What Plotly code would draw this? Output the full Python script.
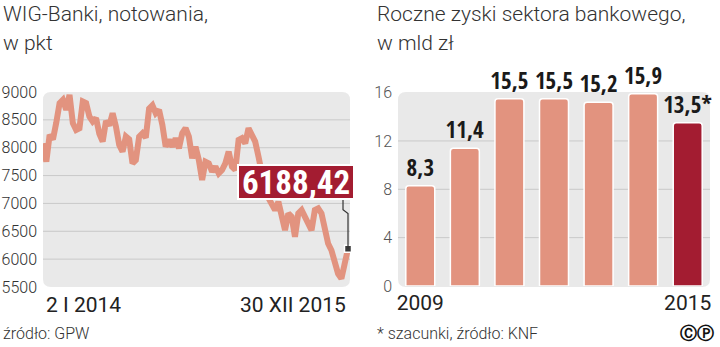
import plotly.graph_objects as go

# ---- data ----
wig_values = [8080, 7750, 8230, 8150, 8450, 8800, 8860, 8680, 8950, 8440,
              8320, 8350, 8830, 8800, 8560, 8470, 8530, 8250, 8110, 8480,
              8400, 8620, 8380, 8050, 7930, 8200, 8150, 7720, 7780, 8200,
              8260, 8180, 8700, 8760, 8620, 8680, 8410, 8020, 8140, 8020,
              8170, 7990, 8260, 8350, 8200, 7810, 8020, 7780, 7420, 7750,
              7720, 7570, 7660, 7540, 7600, 7720, 7930, 7660, 7600, 8140,
              8170, 8080, 8350, 8200, 8110, 7840, 7500, 7250, 7100, 7000,
              6880, 7030, 6760, 6520, 6820, 6760, 6400, 6820, 6880, 6760,
              6700, 6520, 6880, 6910, 6820, 6580, 6280, 6160, 5950, 5740,
              5650, 5900, 6188.42]
wig_last_label = "6188,42"
wig_xlabels = ["2 I 2014", "30 XII 2015"]
wig_yticks = [5500, 6000, 6500, 7000, 7500, 8000, 8500, 9000]

years = ["2009", "2010", "2011", "2012", "2013", "2014", "2015"]
profits = [8.3, 11.4, 15.5, 15.5, 15.2, 15.9, 13.5]
profit_notes = ["", "", "", "", "", "", "*"]
bar_yticks = [0, 4, 8, 12, 16]

LIGHT = "Roboto Light, Roboto, sans-serif"
REG = "Roboto, sans-serif"
BOLDC = "Open Sans Condensed, Roboto Condensed, sans-serif"
RCOND = "Roboto Condensed, sans-serif"
SALMON = "#e2937f"
DARKRED = "#a31c31"
BG = "#e9e9e9"
GRID = "#c9c9c9"

W, H = 720, 347
def px_x(p): return p / W
def px_y(p): return 1 - p / H

fig = go.Figure()

idx = list(range(len(wig_values)))
fig.add_trace(go.Scatter(x=idx, y=wig_values, mode="lines",
                         line=dict(color=SALMON, width=6, shape="linear"),
                         xaxis="x", yaxis="y", hoverinfo="skip"))
fig.add_trace(go.Scatter(x=[idx[-1]], y=[wig_values[-1]], mode="markers",
                         marker=dict(symbol="square", size=7, color="#3b3b3b",
                                     line=dict(color="white", width=1.5)),
                         xaxis="x", yaxis="y", cliponaxis=False))

bar_colors = [SALMON] * (len(profits) - 1) + [DARKRED]
bar_text = [f"{v:.1f}".replace(".", ",") + n for v, n in zip(profits, profit_notes)]
fig.add_trace(go.Bar(x=years, y=profits, marker=dict(color=bar_colors,
                                                     line=dict(color="white", width=1.5)),
                     text=bar_text, textposition="outside", cliponaxis=False,
                     constraintext="none",
                     textfont=dict(family=BOLDC, size=23, color="#1a1a1a", weight="bold"),
                     xaxis="x2", yaxis="y2"))

left_dom_x = [px_x(43), px_x(350)]
left_dom_y = [px_y(287), px_y(92)]
right_dom_x = [px_x(398), px_x(710)]
right_dom_y = [px_y(286), px_y(92)]

fig.update_layout(
    width=W, height=H, margin=dict(l=0, r=0, t=0, b=0, autoexpand=False),
    paper_bgcolor="white", plot_bgcolor="rgba(0,0,0,0)",
    showlegend=False, bargap=0.35, barcornerradius=3,
    font=dict(family=LIGHT, color="#333"),
    xaxis=dict(domain=left_dom_x, range=[0, len(wig_values) - 0.4], showgrid=False,
               zeroline=False, showticklabels=False, anchor="y", automargin=False),
    yaxis=dict(domain=left_dom_y, range=[wig_yticks[0], wig_yticks[-1]],
               tickvals=wig_yticks, showgrid=False, zeroline=False,
               tickfont=dict(family=LIGHT, size=16, color="#333"), ticks="",
               ticklabelstandoff=5, anchor="x", automargin=False),
    xaxis2=dict(domain=right_dom_x, range=[-0.5, 6.5], showgrid=False, zeroline=False,
                tickvals=[years[0], years[-1]], ticktext=[years[0], years[-1]],
                tickfont=dict(family=REG, size=21, color="#222"), ticks="",
                ticklabelstandoff=2, anchor="y2", automargin=False),
    yaxis2=dict(domain=right_dom_y, range=[0, 16.05], tickvals=bar_yticks,
                showgrid=False, zeroline=False,
                tickfont=dict(family=LIGHT, size=16, color="#555"),
                ticks="", ticklabelstandoff=5, anchor="x2", automargin=False),
)

def rounded_bg(x0, x1, y0, y1, r=8):
    rx, ry = r / W, r / H
    X0, X1 = px_x(x0), px_x(x1)
    Yb, Yt = px_y(y1), px_y(y0)
    return (f"M {X0+rx} {Yt} L {X1-rx} {Yt} Q {X1} {Yt} {X1} {Yt-ry} "
            f"L {X1} {Yb+ry} Q {X1} {Yb} {X1-rx} {Yb} L {X0+rx} {Yb} "
            f"Q {X0} {Yb} {X0} {Yb+ry} L {X0} {Yt-ry} Q {X0} {Yt} {X0+rx} {Yt} Z")

shapes = [
    dict(type="path", path=rounded_bg(43, 350, 92, 287), xref="paper", yref="paper",
         fillcolor=BG, line=dict(width=0), layer="below"),
    dict(type="path", path=rounded_bg(398, 710, 92, 287), xref="paper", yref="paper",
         fillcolor=BG, line=dict(width=0), layer="below"),
]
for v in wig_yticks[1:-1]:
    shapes.append(dict(type="line", xref="x domain", yref="y", x0=0, x1=1, y0=v, y1=v,
                       line=dict(color=GRID, width=1), layer="below"))
for v in bar_yticks[1:-1]:
    shapes.append(dict(type="line", xref="x2 domain", yref="y2", x0=0, x1=1, y0=v, y1=v,
                       line=dict(color=GRID, width=1), layer="below"))
shapes.append(dict(type="path", xref="x", yref="y", xsizemode="pixel", ysizemode="pixel",
                   xanchor=idx[-1], yanchor=wig_values[-1],
                   path="M 0 0 L 0 35 L -5 39 L -5 52",
                   line=dict(color="#333", width=1.2), layer="above"))
fig.update_layout(shapes=shapes)

def txt(t, x, y, size, fam=LIGHT, anchor="left", color="#333"):
    return dict(text=t, x=px_x(x), y=px_y(y), xref="paper", yref="paper",
                xanchor=anchor, yanchor="middle", showarrow=False,
                font=dict(size=size, color=color, family=fam))

ann = [
    txt("WIG-Banki, notowania,", 1, 14, 21),
    txt("w pkt", 1, 43, 21),
    txt("Roczne zyski sektora bankowego,", 375, 14, 21),
    txt("w mld zł", 375, 43, 21),
    dict(text=wig_xlabels[0], x=0, y=px_y(305), xref="x", yref="paper", xshift=1,
         xanchor="left", yanchor="middle", showarrow=False,
         font=dict(size=21, color="#222", family=REG)),
    dict(text=wig_xlabels[1], x=1, y=px_y(305), xref="x domain", yref="paper", xshift=-2,
         xanchor="right", yanchor="middle", showarrow=False,
         font=dict(size=21, color="#222", family=REG)),
    dict(text=wig_last_label, x=idx[-1], y=wig_values[-1],
         xref="x", yref="y", width=114, height=32, align="center", valign="middle",
         xanchor="right", yanchor="bottom", xshift=7, yshift=49, showarrow=False,
         bgcolor=DARKRED, bordercolor="white", borderwidth=2, borderpad=0,
         font=dict(size=33, color="white", weight="bold", family=RCOND)),
    txt("źródło: GPW", 1, 333, 16),
    txt("* szacunki, źródło: KNF", 375, 333, 16),
    dict(text="ⒸⓅ", x=px_x(716), y=px_y(333), xref="paper", yref="paper",
         xanchor="right", yanchor="middle", showarrow=False,
         font=dict(size=17, color="#111", family="DejaVu Sans", weight="bold")),
]
fig.update_layout(annotations=ann)

fig.write_html("out.html")
